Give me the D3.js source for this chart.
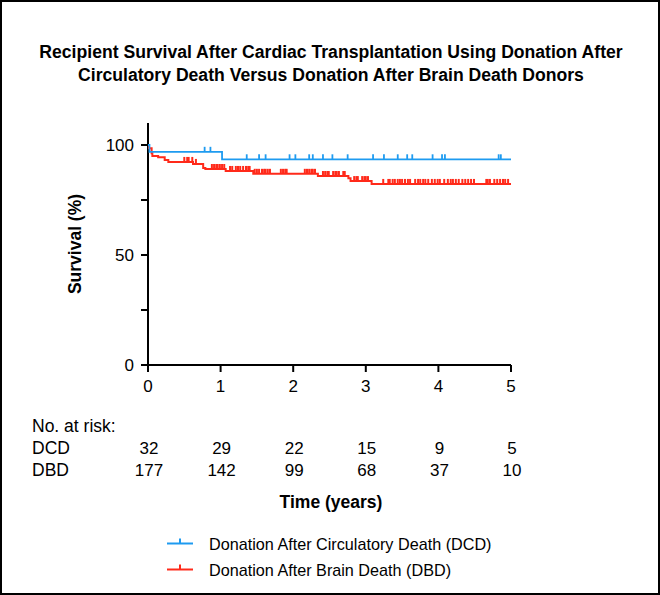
<!DOCTYPE html>
<html>
<head>
<meta charset="utf-8">
<script src="https://cdn.jsdelivr.net/npm/d3@7"></script>
<style>
  html, body { margin: 0; padding: 0; background: #fff; }
  svg { display: block; }
  text { font-family: "Liberation Sans", Arial, sans-serif; fill: #000; }
</style>
</head>
<body>
<svg id="chart" width="660" height="595"></svg>
<script>
// ---------- data ----------
const titleLines = [
  "Recipient Survival After Cardiac Transplantation Using Donation After",
  "Circulatory Death Versus Donation After Brain Death Donors"
];
const xTicks = [0, 1, 2, 3, 4, 5];
const yTicksMajor = [0, 50, 100];
const yTicksMinor = [25, 75];

// DCD: [time (years), survival %]
const dcdSteps = [[0, 100], [0.02, 96.9], [1.02, 93.5]];
const dcdCensor = [0.78, 0.86, 1.36, 1.53, 1.62, 1.95, 2.03, 2.22, 2.27, 2.41, 2.54, 2.75,
  3.10, 3.25, 3.44, 3.57, 3.64, 3.92, 4.05, 4.09, 4.83, 4.86];

// DBD
const dbdSteps = [[0, 100], [0.014, 98.5], [0.05, 96.2], [0.06, 95.0], [0.14, 94.4],
  [0.23, 93.2], [0.28, 92.3], [0.62, 91.4], [0.76, 89.5], [0.79, 89.1], [1.07, 88.2],
  [1.45, 86.9], [2.34, 85.9], [2.76, 84.9], [2.79, 83.6], [3.08, 82.3]];
const dbdCensor = [0.50, 0.54, 0.56, 0.61, 0.66,
  0.88, 0.91, 0.94, 0.96, 0.99, 1.02, 1.05,
  1.13, 1.16, 1.21, 1.24, 1.27, 1.31, 1.35, 1.38, 1.40,
  1.47, 1.50, 1.53, 1.57, 1.60, 1.62, 1.65, 1.68,
  1.83, 1.86, 1.89, 1.91,
  2.16, 2.19, 2.22, 2.25, 2.27, 2.30,
  2.41, 2.44, 2.47, 2.49, 2.55, 2.58, 2.60, 2.63, 2.69, 2.71,
  2.84, 2.87, 2.89, 2.95, 2.98, 3.00, 3.03,
  3.24, 3.31, 3.33, 3.37, 3.40, 3.44, 3.47, 3.50, 3.54, 3.58, 3.61, 3.68, 3.72, 3.75,
  3.79, 3.82, 3.86, 3.91, 3.95, 3.99, 4.02, 4.08, 4.13, 4.17, 4.20, 4.24, 4.28, 4.33,
  4.37, 4.41, 4.45, 4.49, 4.66, 4.68, 4.71, 4.77, 4.81, 4.85, 4.89, 4.92, 4.96];

const riskGroups = ["DCD", "DBD"];
const riskDCD = [32, 29, 22, 15, 9, 5];
const riskDBD = [177, 142, 99, 68, 37, 10];

const seriesNames = ["Donation After Circulatory Death (DCD)", "Donation After Brain Death (DBD)"];
const colors = ["#1E9BF0", "#FF2A1A"];

// ---------- drawing ----------
const svg = d3.select("#chart");
const W = 660, H = 595;

svg.append("rect").attr("x", 1).attr("y", 1).attr("width", W - 2).attr("height", H - 2)
  .attr("fill", "#fff").attr("stroke", "#000").attr("stroke-width", 2);

const x = d3.scaleLinear().domain([0, 5]).range([148, 511]);
const y = d3.scaleLinear().domain([0, 110]).range([365, 123]);

// title
svg.append("g").selectAll("text").data(titleLines).join("text")
  .attr("x", 331).attr("y", (d, i) => 58 + i * 23)
  .attr("text-anchor", "middle").attr("font-weight", "bold").attr("font-size", 17.6)
  .text(d => d);

// axes
const axisColor = "#000";
const gAx = svg.append("g");
gAx.append("line").attr("x1", x(0)).attr("x2", x(0)).attr("y1", y(110)).attr("y2", y(0))
  .attr("stroke", axisColor).attr("stroke-width", 2);
gAx.append("line").attr("x1", x(0)).attr("x2", x(5)).attr("y1", y(0)).attr("y2", y(0))
  .attr("stroke", axisColor).attr("stroke-width", 2);
gAx.selectAll(".ytick").data(yTicksMajor.concat(yTicksMinor)).join("line")
  .attr("x1", x(0) - 7).attr("x2", x(0)).attr("y1", d => y(d)).attr("y2", d => y(d))
  .attr("stroke", axisColor).attr("stroke-width", 2);
gAx.selectAll(".ylab").data(yTicksMajor).join("text")
  .attr("x", x(0) - 14).attr("y", d => y(d) + 6)
  .attr("text-anchor", "end").attr("font-size", 17).text(d => d);
gAx.selectAll(".xtick").data(xTicks).join("line")
  .attr("x1", d => x(d)).attr("x2", d => x(d)).attr("y1", y(0)).attr("y2", y(0) + 7)
  .attr("stroke", axisColor).attr("stroke-width", 2);
gAx.selectAll(".xlab").data(xTicks).join("text")
  .attr("x", d => x(d)).attr("y", y(0) + 27)
  .attr("text-anchor", "middle").attr("font-size", 17).text(d => d);

// y label
svg.append("text").attr("transform", `translate(81,${y(55)}) rotate(-90)`)
  .attr("text-anchor", "middle").attr("font-weight", "bold").attr("font-size", 17.5)
  .text("Survival (%)");

// curves
function stepAt(steps, t) {
  let v = steps[0][1];
  for (const s of steps) { if (s[0] <= t) v = s[1]; }
  return v;
}
const line = d3.line().x(d => x(d[0])).y(d => y(d[1])).curve(d3.curveStepAfter);
const series = [
  { steps: dcdSteps, censor: dcdCensor, color: colors[0], w: 1.8 },
  { steps: dbdSteps, censor: dbdCensor, color: colors[1], w: 2 }
];
[series[1], series[0]].forEach(s => {
  const pts = s.steps.concat([[5, s.steps[s.steps.length - 1][1]]]);
  svg.append("path").attr("d", line(pts)).attr("fill", "none")
    .attr("stroke", s.color).attr("stroke-width", s.w);
  svg.append("g").selectAll("line").data(s.censor).join("line")
    .attr("x1", d => x(d)).attr("x2", d => x(d))
    .attr("y1", d => y(stepAt(s.steps, d)))
    .attr("y2", d => y(stepAt(s.steps, d)) - 5)
    .attr("stroke", s.color).attr("stroke-width", s.w);
});

// risk table
svg.append("text").attr("x", 32).attr("y", 432).attr("font-size", 17.5).text("No. at risk:");
[riskDCD, riskDBD].forEach((row, i) => {
  const yy = 454 + i * 21.5;
  svg.append("text").attr("x", 32).attr("y", yy).attr("font-size", 17.5).text(riskGroups[i]);
  svg.append("g").selectAll("text").data(row).join("text")
    .attr("x", (d, j) => x(xTicks[j]) + 1).attr("y", yy)
    .attr("text-anchor", "middle").attr("font-size", 17).text(d => d);
});

// x label
svg.append("text").attr("x", 331).attr("y", 508).attr("text-anchor", "middle")
  .attr("font-weight", "bold").attr("font-size", 17.5).text("Time (years)");

// legend
const lg = svg.append("g");
seriesNames.forEach((name, i) => {
  const ly = 543.5 + i * 26;
  lg.append("line").attr("x1", 167).attr("x2", 193).attr("y1", ly).attr("y2", ly)
    .attr("stroke", colors[i]).attr("stroke-width", 2);
  lg.append("line").attr("x1", 180).attr("x2", 180).attr("y1", ly).attr("y2", ly - 5)
    .attr("stroke", colors[i]).attr("stroke-width", 2);
  lg.append("text").attr("x", 209).attr("y", ly + 6).attr("font-size", 16.2).text(name);
});
</script>
</body>
</html>
